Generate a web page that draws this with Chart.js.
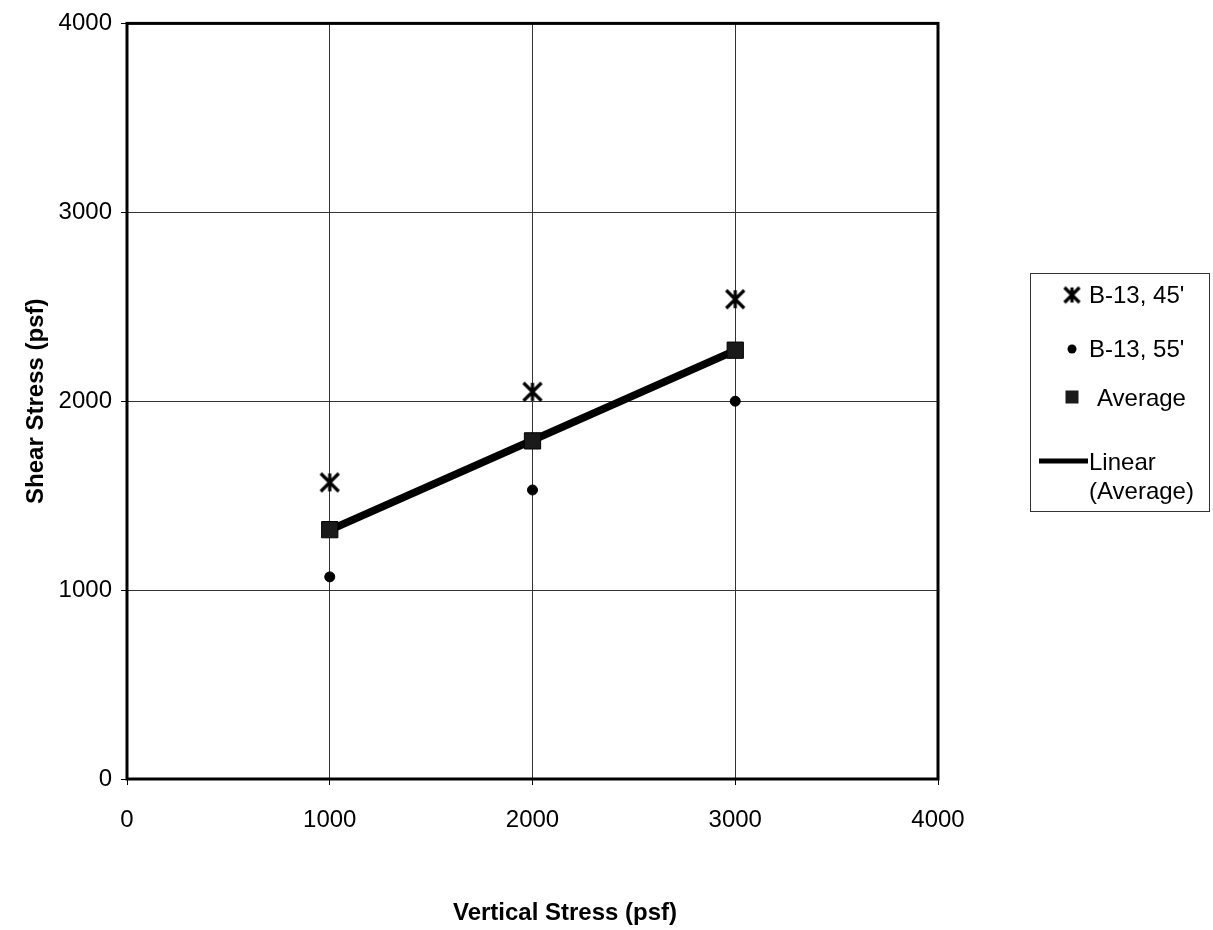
<!DOCTYPE html>
<html>
<head>
<meta charset="utf-8">
<title>Shear Stress vs Vertical Stress</title>
<script src="https://cdn.jsdelivr.net/npm/chart.js@4/dist/chart.umd.min.js"></script>
<style>
  html, body { margin: 0; padding: 0; background: #fff; }
  canvas { display: block; }
</style>
</head>
<body>
<canvas id="graficoCorte" width="1213" height="930"></canvas>
<script>
// dados do ensaio de cisalhamento direto
const verticalStress = [1000, 2000, 3000];
const b13_45 = [1570, 2050, 2540];
const b13_55 = [1070, 1530, 2000];
const average = [1320, 1790, 2270];
const axisTicks = [0, 1000, 2000, 3000, 4000];

const FONTE = "'Liberation Sans', Arial, sans-serif";
Chart.defaults.font.family = FONTE;
Chart.defaults.color = '#000';

// regressão linear da média (linha de tendência)
function ajusteLinear(xs, ys) {
  const n = xs.length;
  const mx = xs.reduce((a, b) => a + b, 0) / n;
  const my = ys.reduce((a, b) => a + b, 0) / n;
  let num = 0, den = 0;
  for (let i = 0; i < n; i++) {
    num += (xs[i] - mx) * (ys[i] - my);
    den += (xs[i] - mx) ** 2;
  }
  const a = num / den;
  return x => my + a * (x - mx);
}
const tendencia = ajusteLinear(verticalStress, average);
const xMin = Math.min(...verticalStress), xMax = Math.max(...verticalStress);

// marcador asterisco (X com traço vertical)
function marcadorEstrela(tam, lw) {
  const c = document.createElement('canvas');
  c.width = tam + 4; c.height = tam + 4;
  const g = c.getContext('2d');
  const m = c.width / 2, h = tam / 2;
  g.strokeStyle = '#000';
  g.lineWidth = lw;
  g.beginPath();
  g.moveTo(m - h, m - h); g.lineTo(m + h, m + h);
  g.moveTo(m - h, m + h); g.lineTo(m + h, m - h);
  g.moveTo(m, m - h); g.lineTo(m, m + h);
  g.stroke();
  return c;
}
const estrela = marcadorEstrela(18, 3.2);
const estrelaLegenda = marcadorEstrela(15, 3.2);

const pares = (xs, ys) => xs.map((x, i) => ({ x: x, y: ys[i] }));

// moldura da área do gráfico
const moldura = {
  id: 'moldura',
  beforeDatasetsDraw(chart) {
    const { ctx, chartArea: a } = chart;
    ctx.save();
    ctx.strokeStyle = '#000';
    ctx.lineWidth = 3;
    ctx.strokeRect(a.left, a.top, a.right - a.left, a.bottom - a.top);
    ctx.restore();
  }
};

// legenda e título do eixo x desenhados à mão
const legendaManual = {
  id: 'legendaManual',
  afterDraw(chart) {
    const ctx = chart.ctx;
    ctx.save();
    ctx.strokeStyle = '#333';
    ctx.lineWidth = 1;
    ctx.strokeRect(1030.5, 273.5, 179, 238);

    const mx = 1072;
    ctx.drawImage(estrelaLegenda, mx - estrelaLegenda.width / 2, 295 - estrelaLegenda.height / 2);
    ctx.fillStyle = '#000';
    ctx.beginPath();
    ctx.arc(mx, 349, 4.5, 0, Math.PI * 2);
    ctx.fill();
    ctx.fillStyle = '#1a1a1a';
    ctx.fillRect(mx - 6.5, 390.5, 13, 13);
    ctx.strokeStyle = '#000';
    ctx.lineWidth = 5;
    ctx.beginPath();
    ctx.moveTo(1039, 461);
    ctx.lineTo(1088, 461);
    ctx.stroke();

    ctx.fillStyle = '#000';
    ctx.font = '24px ' + FONTE;
    ctx.textBaseline = 'middle';
    ctx.textAlign = 'left';
    ctx.fillText("B-13, 45'", 1089, 296);
    ctx.fillText("B-13, 55'", 1089, 350);
    ctx.fillText('Average', 1097, 399);
    ctx.fillText('Linear', 1089, 463);
    ctx.fillText('(Average)', 1089, 492);

    ctx.font = 'bold 24px ' + FONTE;
    ctx.textAlign = 'center';
    ctx.textBaseline = 'alphabetic';
    ctx.fillText('Vertical Stress (psf)', 565, 920);
    ctx.restore();
  }
};

const ctx = document.getElementById('graficoCorte').getContext('2d');
new Chart(ctx, {
  type: 'scatter',
  data: {
    datasets: [
      {
        label: "B-13, 45'",
        data: pares(verticalStress, b13_45),
        pointStyle: estrela,
        order: 1
      },
      {
        label: "B-13, 55'",
        data: pares(verticalStress, b13_55),
        pointStyle: 'circle',
        pointRadius: 5,
        backgroundColor: '#000',
        borderColor: '#000',
        order: 1
      },
      {
        label: 'Average',
        data: pares(verticalStress, average),
        pointStyle: 'rect',
        pointRadius: 11.5,
        backgroundColor: '#1a1a1a',
        borderColor: '#000',
        borderWidth: 1,
        order: 1
      },
      {
        label: 'Linear (Average)',
        type: 'line',
        data: [{ x: xMin, y: tendencia(xMin) }, { x: xMax, y: tendencia(xMax) }],
        borderColor: '#000',
        borderWidth: 7.5,
        pointRadius: 0,
        fill: false,
        order: 5
      }
    ]
  },
  options: {
    responsive: false,
    animation: false,
    layout: { padding: { top: 21, right: 275, left: 0, bottom: 0 } },
    plugins: {
      legend: { display: false },
      tooltip: { enabled: false }
    },
    scales: {
      x: {
        type: 'linear',
        min: axisTicks[0],
        max: axisTicks[axisTicks.length - 1],
        afterBuildTicks: s => { s.ticks = axisTicks.map(v => ({ value: v })); },
        ticks: { callback: v => String(v), font: { size: 24 }, color: '#000', padding: 21, maxRotation: 0 },
        grid: { color: '#333', lineWidth: 1, tickLength: 6, tickColor: '#000' },
        border: { display: false },
        afterFit: s => { s.height = 151; }
      },
      y: {
        type: 'linear',
        min: axisTicks[0],
        max: axisTicks[axisTicks.length - 1],
        afterBuildTicks: s => { s.ticks = axisTicks.map(v => ({ value: v })); },
        ticks: { callback: v => String(v), font: { size: 24 }, color: '#000', padding: 9 },
        grid: { color: '#333', lineWidth: 1, tickLength: 6, tickColor: '#000' },
        border: { display: false },
        title: {
          display: true,
          text: 'Shear Stress (psf)',
          font: { size: 24, weight: 'bold' },
          color: '#000',
          padding: { top: 22 }
        },
        afterFit: s => { s.width = 127; }
      }
    }
  },
  plugins: [moldura, legendaManual]
});
</script>
</body>
</html>
